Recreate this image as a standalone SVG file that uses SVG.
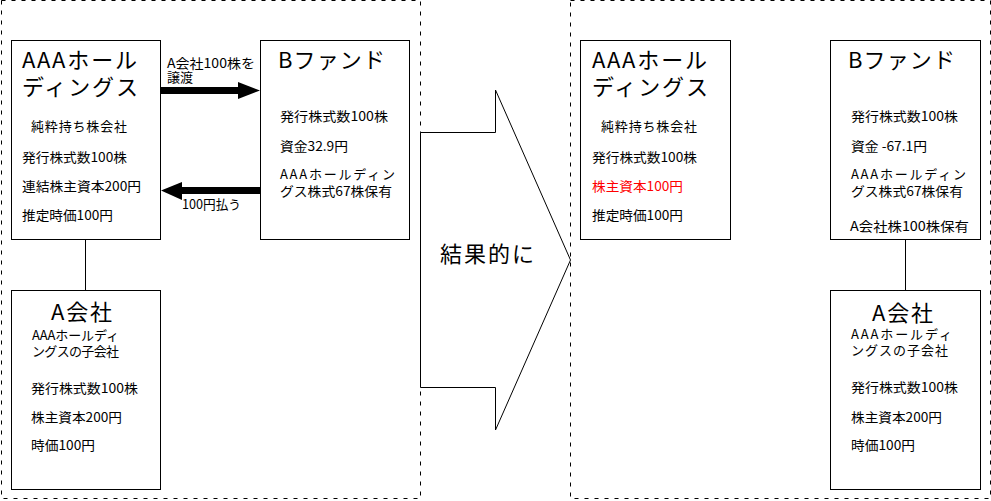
<svg xmlns="http://www.w3.org/2000/svg" width="991" height="501" viewBox="0 0 991 501">
<style>
text{font-family:"Noto Sans CJK JP","Noto Sans",sans-serif;fill:#000}
.t{font-size:13px}
.big{font-size:22px}
.box{fill:#fff;stroke:#000;stroke-width:1}
.frame{fill:none;stroke:#000;stroke-width:1;stroke-dasharray:4 6}
.red{fill:#ff0000}
</style>
<rect width="991" height="501" fill="#fff"/>
<rect class="frame" x="1.5" y="0.5" width="419" height="498"/>
<rect class="frame" x="570.5" y="0.5" width="420" height="498"/>

<g id="connectors">
<line x1="85.5" y1="240" x2="85.5" y2="291" stroke="#000"/>
<line x1="905.5" y1="240" x2="905.5" y2="291" stroke="#000"/>
<rect x="161" y="87" width="78" height="7" fill="#000"/>
<polygon points="238,82 260,90.5 238,99" fill="#000"/>
<rect x="180" y="187" width="80" height="7" fill="#000"/>
<polygon points="182,182 161,190.5 182,200" fill="#000"/>
<text class="t" x="167" y="68" textLength="88" lengthAdjust="spacingAndGlyphs">A会社100株を</text>
<text class="t" x="167" y="82">譲渡</text>
<text class="t" x="182" y="209" textLength="59" lengthAdjust="spacingAndGlyphs">100円払う</text>
</g>

<g id="result-arrow">
<polygon points="420.5,132.5 495.5,132.5 495.5,90 570.5,260 495.5,430 495.5,387.5 420.5,387.5" fill="#fff" stroke="#000"/>
<text x="440" y="262" style="font-size:22px" textLength="94" lengthAdjust="spacing">結果的に</text>
</g>

<g id="aaa-before">
<rect class="box" x="11.5" y="40.5" width="149" height="199"/>
<text class="big" x="22" y="68" textLength="115" lengthAdjust="spacing">AAAホール</text>
<text class="big" x="22" y="95" textLength="116" lengthAdjust="spacing">ディングス</text>
<text class="t" x="31" y="131" textLength="96" lengthAdjust="spacing">純粋持ち株会社</text>
<text class="t" x="22" y="162" textLength="105" lengthAdjust="spacingAndGlyphs">発行株式数100株</text>
<text class="t" x="22" y="191" textLength="119" lengthAdjust="spacingAndGlyphs">連結株主資本200円</text>
<text class="t" x="22" y="220" textLength="91" lengthAdjust="spacingAndGlyphs">推定時価100円</text>
</g>

<g id="bfund-before">
<rect class="box" x="260.5" y="40.5" width="149" height="199"/>
<text class="big" x="278" y="68" textLength="107" lengthAdjust="spacing">Bファンド</text>
<text class="t" x="280" y="121" textLength="108" lengthAdjust="spacingAndGlyphs">発行株式数100株</text>
<text class="t" x="280" y="151" textLength="68" lengthAdjust="spacingAndGlyphs">資金32.9円</text>
<text class="t" x="280" y="179" textLength="115" lengthAdjust="spacing">AAAホールディン</text>
<text class="t" x="280" y="196" textLength="112" lengthAdjust="spacingAndGlyphs">グス株式67株保有</text>
</g>

<g id="acompany-before">
<rect class="box" x="11.5" y="290.5" width="149" height="199"/>
<text class="big" x="51" y="320" textLength="61" lengthAdjust="spacing">A会社</text>
<text class="t" x="32" y="340" textLength="87" lengthAdjust="spacing">AAAホールディ</text>
<text class="t" x="32" y="356" textLength="87" lengthAdjust="spacing">ングスの子会社</text>
<text class="t" x="31" y="393" textLength="107" lengthAdjust="spacingAndGlyphs">発行株式数100株</text>
<text class="t" x="31" y="422" textLength="91" lengthAdjust="spacingAndGlyphs">株主資本200円</text>
<text class="t" x="31" y="450" textLength="64" lengthAdjust="spacingAndGlyphs">時価100円</text>
</g>

<g id="aaa-after">
<rect class="box" x="580.5" y="40.5" width="150" height="199"/>
<text class="big" x="592" y="68" textLength="115" lengthAdjust="spacing">AAAホール</text>
<text class="big" x="592" y="95" textLength="116" lengthAdjust="spacing">ディングス</text>
<text class="t" x="601" y="131" textLength="96" lengthAdjust="spacing">純粋持ち株会社</text>
<text class="t" x="592" y="162" textLength="105" lengthAdjust="spacingAndGlyphs">発行株式数100株</text>
<text class="t red" x="592" y="191" textLength="91" lengthAdjust="spacingAndGlyphs">株主資本100円</text>
<text class="t" x="592" y="220" textLength="91" lengthAdjust="spacingAndGlyphs">推定時価100円</text>
</g>

<g id="bfund-after">
<rect class="box" x="830.5" y="40.5" width="150" height="199"/>
<text class="big" x="848" y="68" textLength="107" lengthAdjust="spacing">Bファンド</text>
<text class="t" x="851" y="121" textLength="107" lengthAdjust="spacingAndGlyphs">発行株式数100株</text>
<text class="t" x="851" y="151" textLength="76" lengthAdjust="spacingAndGlyphs">資金 -67.1円</text>
<text class="t" x="851" y="179" textLength="115" lengthAdjust="spacing">AAAホールディン</text>
<text class="t" x="851" y="196" textLength="112" lengthAdjust="spacingAndGlyphs">グス株式67株保有</text>
<text class="t" x="850" y="231" textLength="119" lengthAdjust="spacingAndGlyphs">A会社株100株保有</text>
</g>

<g id="acompany-after">
<rect class="box" x="830.5" y="290.5" width="150" height="199"/>
<text class="big" x="872" y="321" textLength="61" lengthAdjust="spacing">A会社</text>
<text class="t" x="851" y="339" textLength="101" lengthAdjust="spacing">AAAホールディ</text>
<text class="t" x="851" y="355" textLength="97" lengthAdjust="spacing">ングスの子会社</text>
<text class="t" x="851" y="392" textLength="107" lengthAdjust="spacingAndGlyphs">発行株式数100株</text>
<text class="t" x="851" y="422" textLength="91" lengthAdjust="spacingAndGlyphs">株主資本200円</text>
<text class="t" x="851" y="450" textLength="64" lengthAdjust="spacingAndGlyphs">時価100円</text>
</g>
</svg>
